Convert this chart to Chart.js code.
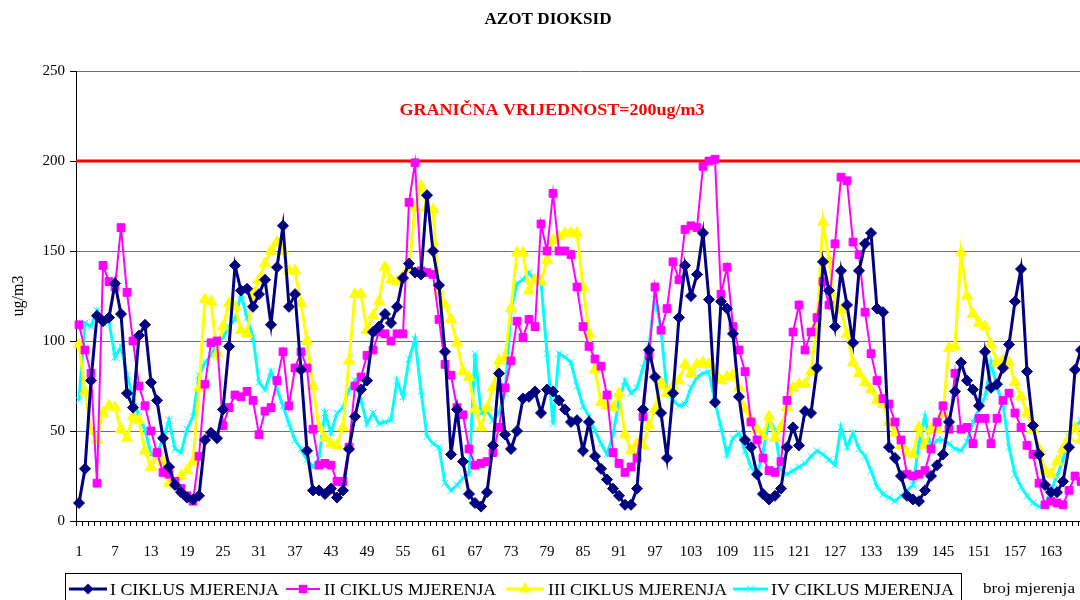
<!DOCTYPE html>
<html><head><meta charset="utf-8">
<script src="https://cdn.jsdelivr.net/npm/chart.js@4/dist/chart.umd.min.js"></script>
<style>
html,body{margin:0;padding:0;overflow:hidden;background:#fff;width:1080px;height:600px}
#wrap{position:absolute;left:0;top:0;width:1100px;height:600px}
</style>
</head><body><div id="wrap"><canvas id="c" width="1100" height="600"></canvas></div>
<script>
const chartTitle = 'AZOT DIOKSID';
const xTitle = 'broj mjerenja';
const yTitle = 'ug/m3';
const LIMIT = 200;
const limitLabel = 'GRANIČNA VRIJEDNOST=200ug/m3';
const categories = Array.from({length: 168}, (_, i) => String(i + 1));
const xTickLabels = ['1','7','13','19','25','31','37','43','49','55','61','67','73','79','85','91','97','103','109','115','121','127','133','139','145','151','157','163'];
const seriesNames = ['I CIKLUS MJERENJA','II CIKLUS MJERENJA','III CIKLUS MJERENJA','IV CIKLUS MJERENJA'];

const cycle1 = [10,29,78,114,111,113,132,115,71,63,
103,109,77,67,46,30,20,16,13,12,
14,45,49,46,62,97,142,128,129,119,
126,134,109,141,164,119,126,84,39,17,
17,15,18,13,17,40,58,73,78,105,
108,115,110,119,135,143,138,137,181,150,
131,94,37,62,33,15,10,8,16,42,
82,48,40,50,68,69,72,60,73,72,
67,62,55,56,39,55,36,29,23,18,
14,9,9,18,62,95,80,60,35,71,
113,142,125,137,160,123,66,122,118,104,
69,45,41,26,15,12,14,18,41,52,
42,61,60,85,144,128,108,139,120,99,
139,154,160,118,116,41,35,25,14,12,
11,17,25,31,37,55,72,88,78,73,
64,94,74,76,85,98,122,140,83,53,
37,20,16,16,22,41,84,95];

const cycle2 = [109,95,82,21,142,133,130,163,127,100,
75,64,50,38,27,26,22,18,14,11,
36,76,99,100,53,63,70,69,72,67,
48,61,63,78,94,64,85,94,85,51,
31,32,31,22,22,41,75,80,92,95,
105,104,100,104,104,177,199,139,138,137,
112,87,81,63,59,40,31,32,33,38,
52,74,89,111,102,112,108,165,150,182,
150,150,148,130,108,97,90,86,70,38,
32,27,30,35,58,92,130,106,118,144,
134,162,164,163,197,200,201,126,141,108,
95,83,55,45,35,28,27,33,67,105,
120,95,105,113,133,120,154,191,189,155,
148,116,93,78,68,65,55,45,26,25,
26,28,40,55,64,51,82,51,52,43,
57,57,43,57,67,71,60,52,42,37,
21,9,11,10,9,17,25,22];

const cycle3 = [98,72,50,45,60,64,63,51,46,58,
56,39,30,36,33,21,20,25,28,33,
74,123,122,93,108,121,119,106,104,126,
134,143,150,155,150,139,139,121,100,75,
52,46,43,42,52,89,126,126,106,114,
122,141,134,133,136,140,174,186,174,173,
128,120,112,99,83,80,62,52,63,74,
89,91,118,149,149,128,134,133,145,156,
158,160,160,160,130,104,84,66,64,63,
71,48,39,43,42,53,62,77,71,75,
78,87,82,87,88,87,83,78,80,81,
74,62,56,51,47,58,46,52,63,74,
76,76,83,110,166,145,120,117,104,88,
82,77,73,67,65,55,49,42,38,37,
52,42,51,51,60,96,97,149,125,115,
110,108,98,88,89,88,77,69,60,51,
40,28,26,33,40,46,52,45];

const cycle4 = [67,110,108,117,110,111,91,97,81,69,
58,51,37,38,45,56,40,38,51,58,
81,88,92,98,102,108,112,126,113,102,
77,73,83,73,64,54,45,40,34,30,
35,60,49,60,63,73,78,67,54,60,
54,55,56,78,69,90,101,72,47,43,
41,21,17,20,24,26,93,60,61,56,
60,71,117,132,134,138,133,133,93,54,
93,91,88,75,64,58,50,43,37,48,
67,78,71,74,85,97,126,106,72,67,
64,65,74,80,82,83,66,52,37,46,
49,39,30,26,38,57,50,28,26,28,
30,32,36,39,37,34,31,52,41,49,
40,36,28,19,15,13,11,14,17,20,
43,58,40,45,45,43,40,39,44,55,
62,69,88,74,65,41,26,19,14,10,
8,9,17,25,34,47,52,56];

const colors = ['#000080', '#ff00ff', '#ffff00', '#00ffff'];
const SERIF = "'Liberation Serif', 'Times New Roman', serif";

function ds(label, data, color, style, radius, lw, order) {
  return {
    label, data, borderColor: color, backgroundColor: color,
    pointBackgroundColor: color, pointBorderColor: color,
    pointStyle: style, pointRadius: radius, pointBorderWidth: 1,
    borderWidth: lw, tension: 0, fill: false, order
  };
}

function drawMarker(ctx, style, x, y, r, color) {
  ctx.save();
  ctx.fillStyle = color; ctx.strokeStyle = color; ctx.lineWidth = 1;
  ctx.beginPath();
  if (style === 'rectRot') {
    ctx.moveTo(x, y - r); ctx.lineTo(x + r, y); ctx.lineTo(x, y + r); ctx.lineTo(x - r, y); ctx.closePath(); ctx.fill();
  } else if (style === 'rect') {
    const s = r * Math.SQRT1_2;
    ctx.rect(x - s, y - s, 2 * s, 2 * s); ctx.fill();
  } else if (style === 'triangle') {
    ctx.moveTo(x, y - r); ctx.lineTo(x + r * 0.866, y + r * 0.5); ctx.lineTo(x - r * 0.866, y + r * 0.5); ctx.closePath(); ctx.fill();
  } else {
    const s = r * Math.SQRT1_2;
    ctx.moveTo(x - s, y - s); ctx.lineTo(x + s, y + s); ctx.moveTo(x + s, y - s); ctx.lineTo(x - s, y + s); ctx.stroke();
  }
  ctx.restore();
}

// draw text squeezed/stretched to a target width (reference uses a narrow serif face)
function fitText(ctx, text, x, y, width, align) {
  const w = ctx.measureText(text).width;
  const sx = width / w;
  ctx.save();
  let left = x;
  if (align === 'center') left = x - width / 2;
  ctx.translate(left, y);
  ctx.scale(sx, 1);
  ctx.textAlign = 'left';
  ctx.fillText(text, 0, 0);
  ctx.restore();
}

const overlay = {
  id: 'overlay',
  beforeDatasetsDraw(chart) {
    const {ctx, chartArea, scales: {y}} = chart;
    const py = y.getPixelForValue(LIMIT);
    ctx.save();
    ctx.strokeStyle = '#ff0000'; ctx.lineWidth = 3;
    ctx.beginPath(); ctx.moveTo(chartArea.left, py); ctx.lineTo(chartArea.right, py); ctx.stroke();
    ctx.restore();
  },
  afterDraw(chart) {
    const ctx = chart.ctx;
    ctx.save();
    ctx.textBaseline = 'middle';
    ctx.fillStyle = '#000';
    ctx.font = 'bold 16px ' + SERIF;
    fitText(ctx, chartTitle, 548, 20, 127, 'center');
    ctx.fillStyle = '#ff0000';
    ctx.font = 'bold 17px ' + SERIF;
    fitText(ctx, limitLabel, 552, 111, 305, 'center');
    // legend box
    ctx.strokeStyle = '#000'; ctx.lineWidth = 1;
    ctx.strokeRect(65.5, 573.5, 896, 40);
    const items = [
      {x0: 69, x1: 107, tx: 110, w: 169, style: 'rectRot', r: 5.5, lw: 3},
      {x0: 286, x1: 320, tx: 324, w: 172, style: 'rect', r: 6, lw: 2},
      {x0: 506, x1: 544, tx: 548, w: 179, style: 'triangle', r: 7, lw: 3},
      {x0: 733, x1: 768, tx: 771, w: 183, style: 'crossRot', r: 5.5, lw: 3}
    ];
    ctx.font = '16px ' + SERIF;
    items.forEach((it, i) => {
      const ly = 589;
      ctx.strokeStyle = colors[i]; ctx.lineWidth = it.lw;
      ctx.beginPath(); ctx.moveTo(it.x0, ly); ctx.lineTo(it.x1, ly); ctx.stroke();
      drawMarker(ctx, it.style, (it.x0 + it.x1) / 2, ly, it.r, colors[i]);
      ctx.fillStyle = '#000';
      fitText(ctx, seriesNames[i], it.tx, 591, it.w, 'left');
    });
    ctx.font = '15px ' + SERIF;
    fitText(ctx, xTitle, 983, 589, 92, 'left');
    ctx.restore();
  }
};

new Chart(document.getElementById('c'), {
  type: 'line',
  data: {
    labels: categories,
    datasets: [
      ds(seriesNames[0], cycle1, colors[0], 'rectRot', 5.5, 3, 1),
      ds(seriesNames[1], cycle2, colors[1], 'rect', 5.5, 2, 2),
      ds(seriesNames[2], cycle3, colors[2], 'triangle', 6.5, 3, 3),
      ds(seriesNames[3], cycle4, colors[3], 'crossRot', 5, 3, 4)
    ]
  },
  options: {
    responsive: false,
    animation: false,
    layout: {padding: {left: 0, right: 16, top: 71, bottom: 0}},
    plugins: {legend: {display: false}, tooltip: {enabled: false}, title: {display: false}},
    scales: {
      x: {
        type: 'category', offset: true,
        grid: {offset: true, drawOnChartArea: false, drawTicks: true, tickLength: 5, color: '#000', tickColor: '#000'},
        border: {color: '#000', width: 1},
        ticks: {
          autoSkip: false, maxRotation: 0, minRotation: 0, padding: 17, color: '#000',
          font: {family: SERIF, size: 15},
          callback: function (v) { const l = this.getLabelForValue(v); return xTickLabels.includes(l) ? l : ''; }
        },
        afterFit: (s) => { s.height = 79; }
      },
      y: {
        min: 0, max: 250,
        ticks: {stepSize: 50, padding: 5, color: '#000', font: {family: SERIF, size: 15}},
        grid: {color: '#707070', tickColor: '#000', tickLength: 6, drawTicks: true},
        border: {color: '#000', width: 1},
        title: {display: true, text: yTitle, color: '#000', font: {family: SERIF, size: 16}, padding: {top: 9, bottom: 0}},
        afterFit: (s) => { s.width = 76; }
      }
    }
  },
  plugins: [overlay]
});
</script>
</body></html>
